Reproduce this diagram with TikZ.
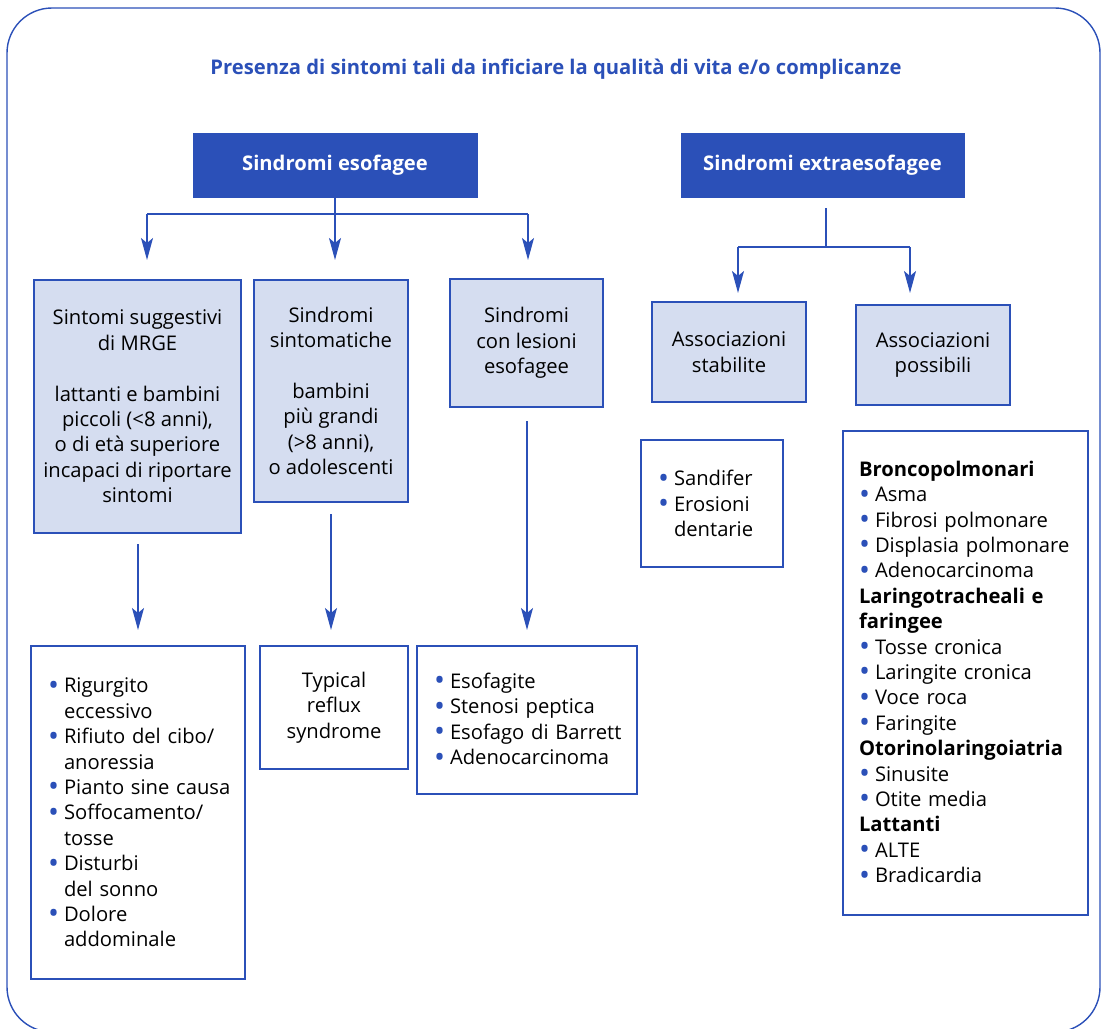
\documentclass[tikz,border=0pt]{standalone}
\usepackage{fontspec}
\setmainfont{Open Sans}
\usetikzlibrary{arrows.meta}
\definecolor{mainblue}{RGB}{43,80,184}
\definecolor{lightfill}{RGB}{213,221,240}
\newcommand\bulmark{\makebox[16pt][l]{\textcolor{mainblue}{\raisebox{-0.12em}{\scalebox{1.45}{\textbullet}}}}}
\newcommand\bi[1]{\mbox{\bulmark#1}}
\newcommand\ci[1]{\mbox{\hspace*{16pt}#1}}
\newcommand\hd[1]{\mbox{\bfseries#1}}
\begin{document}
\begin{tikzpicture}[x=1pt,y=-1pt,
  txt/.style={font=\fontsize{20.2}{25.4}\selectfont},
  hdr/.style={draw=mainblue, fill=mainblue, line width=1pt, text=white,
    font=\bfseries\fontsize{20.2}{25.4}\selectfont, inner sep=0pt},
  lvl/.style={draw=mainblue, fill=lightfill, line width=1.2pt, txt,
    align=center, inner sep=0pt},
  lst/.style={draw=mainblue, fill=white, line width=1.2pt, txt,
    align=left, inner sep=0pt},
  conn/.style={draw=mainblue, line width=1.4pt},
  arr/.style={conn, -{Stealth[length=22pt,width=12pt,inset=5pt]}}
]
\useasboundingbox (0,0) rectangle (1102,1028);
\clip (0,0) rectangle (1102,1028);
\draw[mainblue, line width=1.4pt, rounded corners=45pt] (7,8) rectangle (1100,1032);

\node[font=\bfseries\fontsize{20.2}{24}\selectfont, text=mainblue] (title) at (556,69)
  {Presenza di sintomi tali da inficiare la qualità di vita e/o complicanze};

\node[hdr, minimum width=284pt, minimum height=64pt] (es) at (335,165) {Sindromi esofagee};
\node[hdr, minimum width=283pt, minimum height=64pt] (ex) at (822.5,165) {Sindromi extraesofagee};

% level 2
\node[lvl, minimum width=207pt, minimum height=253pt] (A) at (137.5,406.5)
  {Sintomi suggestivi\\di MRGE\\[25.4pt]lattanti e bambini\\piccoli (<8 anni),\\o di età superiore\\incapaci di riportare\\sintomi};
\node[lvl, minimum width=154pt, minimum height=222pt] (B) at (331,391)
  {Sindromi\\sintomatiche\\[25.4pt]bambini\\più grandi\\(>8 anni),\\o adolescenti};
\node[lvl, minimum width=153pt, minimum height=128pt] (C) at (526.5,343)
  {Sindromi\\con lesioni\\esofagee};
\node[lvl, minimum width=154pt, minimum height=100pt] (D) at (729,352)
  {Associazioni\\stabilite};
\node[lvl, minimum width=154pt, minimum height=100pt] (E) at (933,355)
  {Associazioni\\possibili};

% level 3
\node[lst, minimum width=214pt, minimum height=333pt, text width=180pt] (A3) at (138,812.5)
  {\bi{Rigurgito}\\\ci{eccessivo}\\\bi{Rifiuto del cibo/}\\\ci{anoressia}\\\bi{Pianto sine causa}\\\bi{Soffocamento/}\\\ci{tosse}\\\bi{Disturbi}\\\ci{del sonno}\\\bi{Dolore}\\\ci{addominale}};
\node[lst, minimum width=148pt, minimum height=123pt, align=center] (B3) at (334,707.5)
  {Typical\\reflux\\syndrome};
\node[lst, minimum width=220pt, minimum height=148pt, text width=186pt] (C3) at (527,720)
  {\bi{Esofagite}\\\bi{Stenosi peptica}\\\bi{Esofago di Barrett}\\\bi{Adenocarcinoma}};
\node[lst, minimum width=142pt, minimum height=127pt, text width=108pt] (D3) at (712,503.5)
  {\bi{Sandifer}\\\bi{Erosioni}\\\ci{dentarie}};
\node[lst, minimum width=245pt, minimum height=484pt, text width=213pt] (E3) at (965.5,673)
  {\hd{Broncopolmonari}\\\bi{Asma}\\\bi{Fibrosi polmonare}\\\bi{Displasia polmonare}\\\bi{Adenocarcinoma}\\
   \hd{Laringotracheali e}\\\hd{faringee}\\\bi{Tosse cronica}\\\bi{Laringite cronica}\\\bi{Voce roca}\\\bi{Faringite}\\
   \hd{Otorinolaringoiatria}\\\bi{Sinusite}\\\bi{Otite media}\\
   \hd{Lattanti}\\\bi{ALTE}\\\bi{Bradicardia}};

% connectors: esofagee
\coordinate (esj) at (335,214);
\coordinate (esl) at (147,214);
\coordinate (esr) at (528,214);
\coordinate (tA) at (147,260);
\coordinate (tB) at (335,260);
\coordinate (tC) at (528,260);
\draw[conn] (es.south) -- (esj);
\draw[conn] (esl) -- (esr);
\draw[arr] (esl) -- (tA);
\draw[arr] (esj) -- (tB);
\draw[arr] (esr) -- (tC);

% connectors: extraesofagee
\coordinate (exs) at (826,208);
\coordinate (exj) at (826,247);
\coordinate (exl) at (738,247);
\coordinate (exr) at (910,247);
\coordinate (tD) at (738,293);
\coordinate (tE) at (910,293);
\draw[conn] (exs) -- (exj);
\draw[conn] (exl) -- (exr);
\draw[arr] (exl) -- (tD);
\draw[arr] (exr) -- (tE);

% level 2 -> 3
\coordinate (sA) at (138,544);
\coordinate (sB) at (331,514);
\coordinate (sC) at (527,421);
\coordinate (eA) at (138,630);
\coordinate (eB) at (331,630);
\coordinate (eC) at (527,630);
\draw[arr] (sA) -- (eA);
\draw[arr] (sB) -- (eB);
\draw[arr] (sC) -- (eC);
\end{tikzpicture}
\end{document}
